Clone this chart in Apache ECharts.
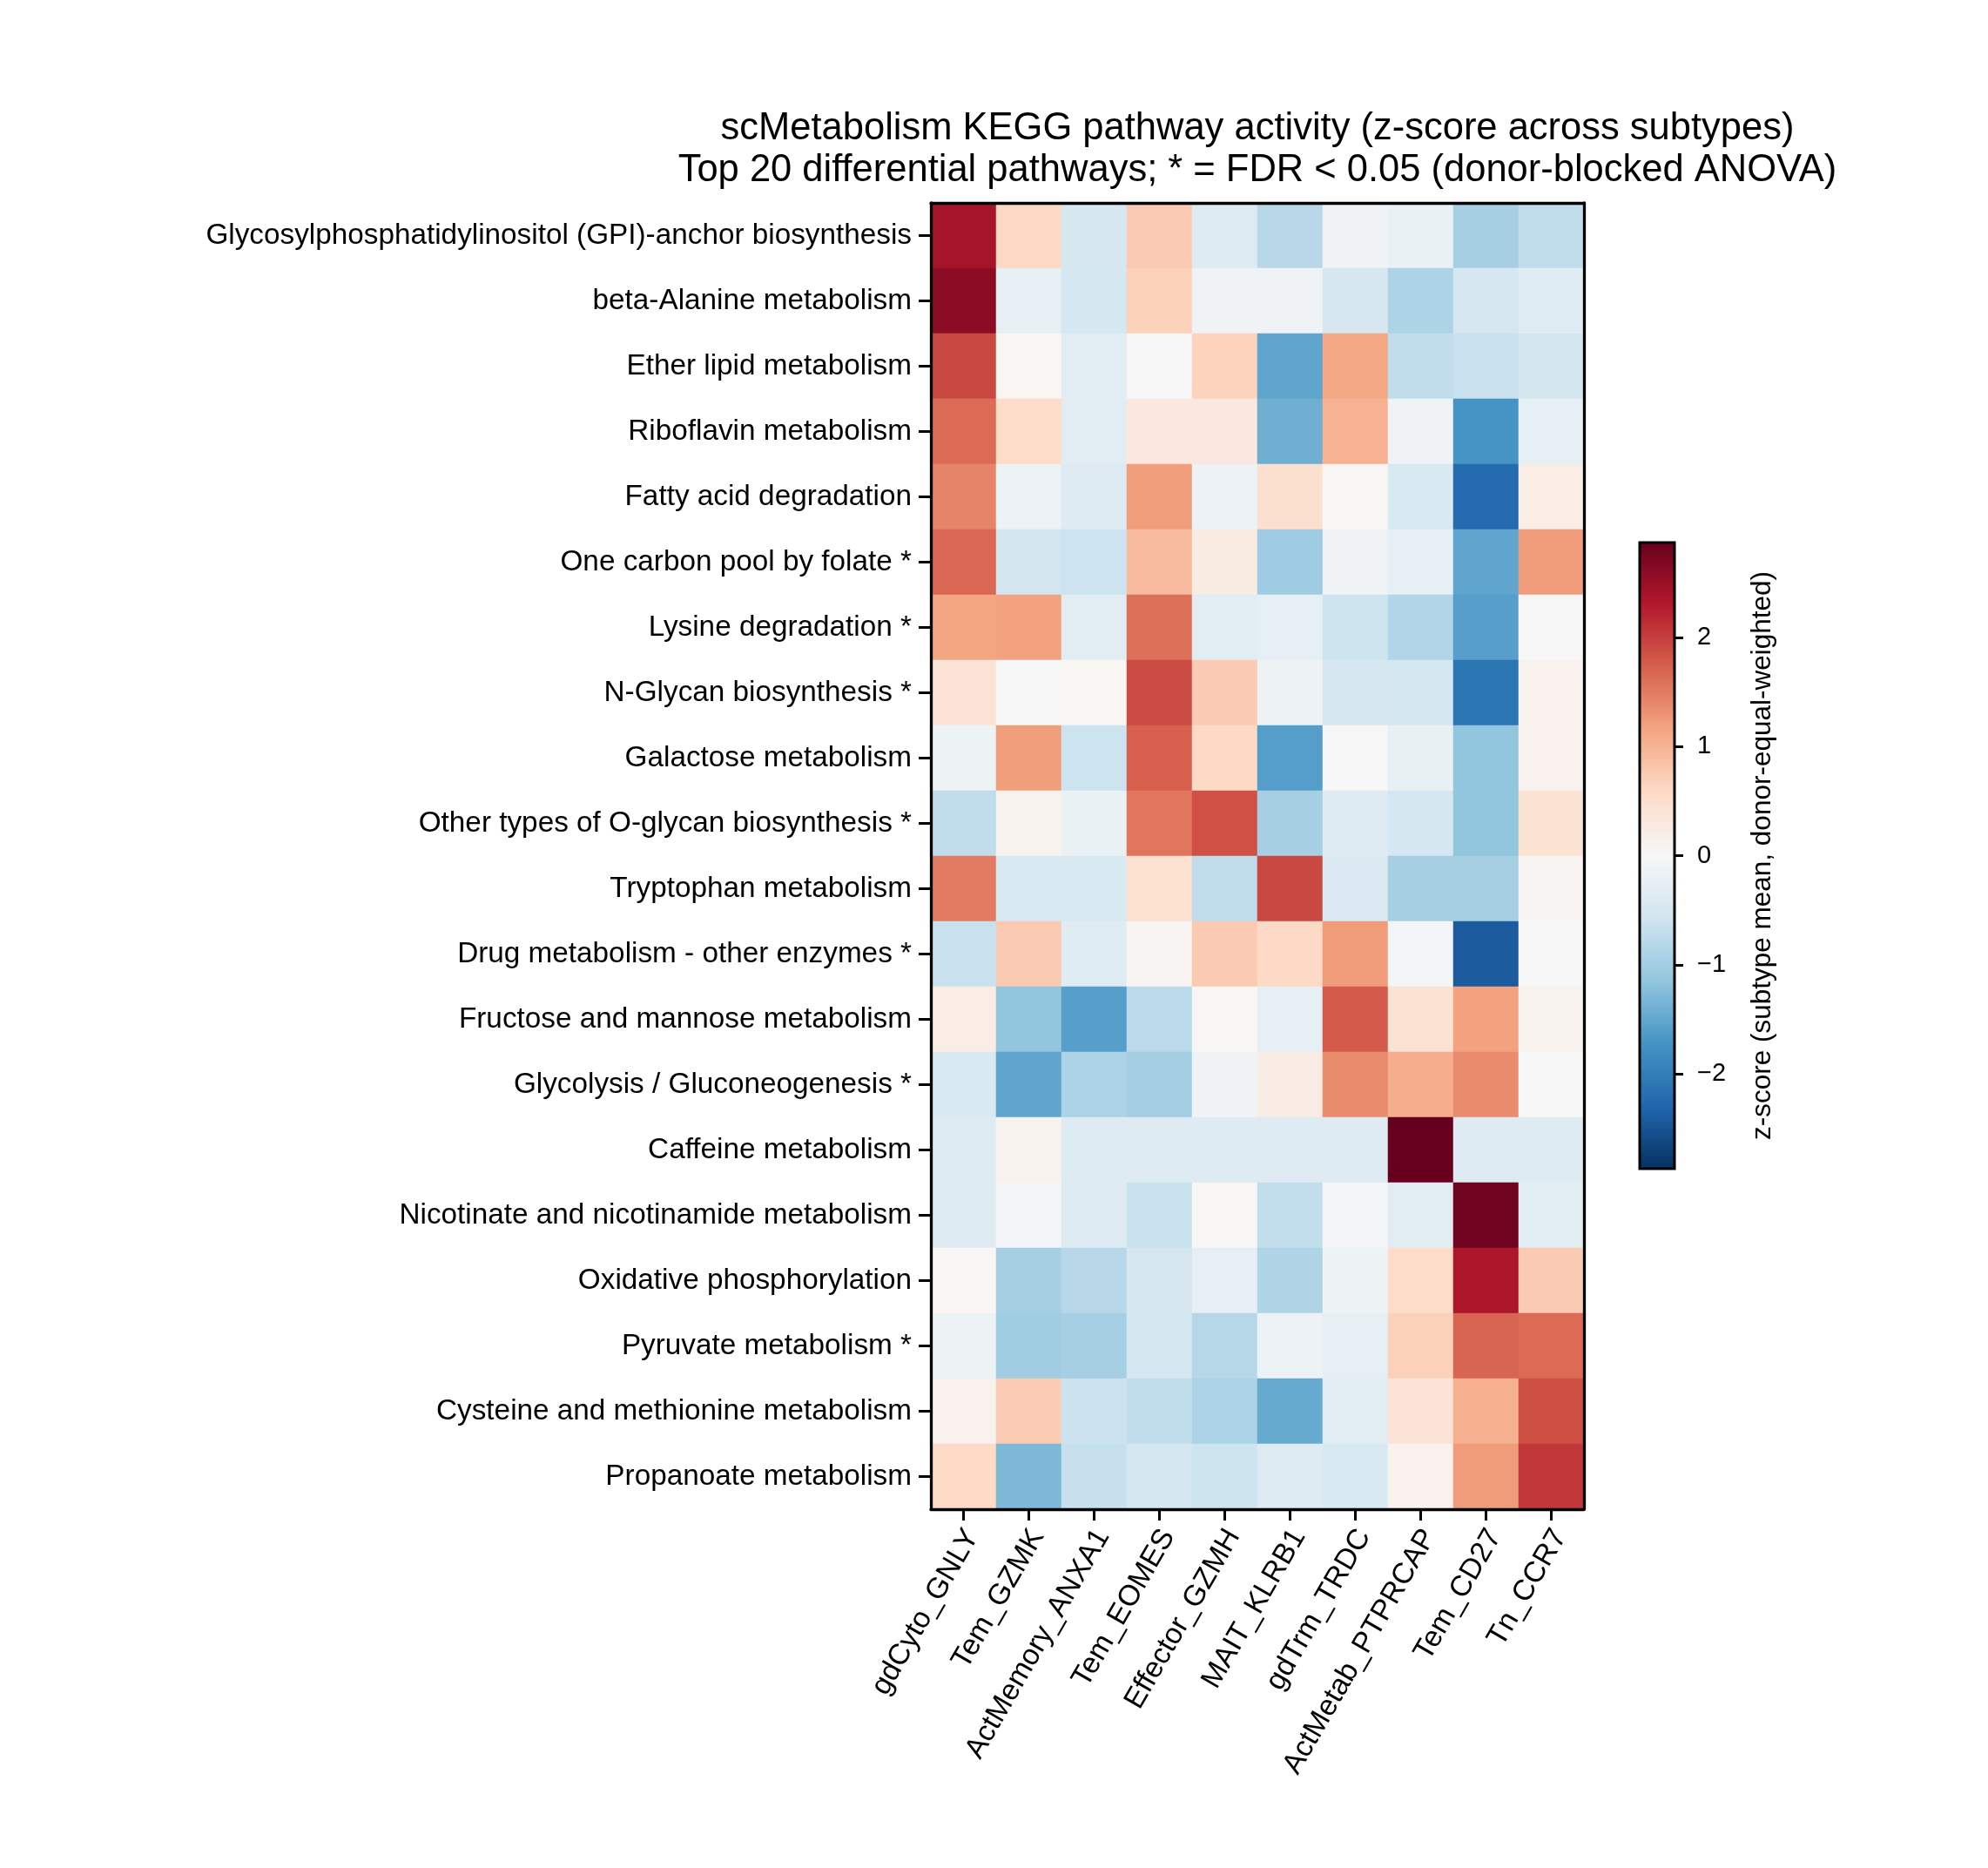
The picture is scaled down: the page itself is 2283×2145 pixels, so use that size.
<!DOCTYPE html>
<html>
<head>
<meta charset="utf-8">
<script src="https://cdn.jsdelivr.net/npm/echarts@6/dist/echarts.min.js"></script>
<style>
html,body{margin:0;padding:0;background:#fff;}
#chart{width:2283px;height:2145px;}
</style>
</head>
<body>
<div id="chart"></div>
<script>
// ---- data ----
const subtypes = ['gdCyto_GNLY','Tem_GZMK','ActMemory_ANXA1','Tem_EOMES','Effector_GZMH','MAIT_KLRB1','gdTrm_TRDC','ActMetab_PTPRCAP','Tem_CD27','Tn_CCR7'];
const pathways = [
  'Glycosylphosphatidylinositol (GPI)-anchor biosynthesis',
  'beta-Alanine metabolism',
  'Ether lipid metabolism',
  'Riboflavin metabolism',
  'Fatty acid degradation',
  'One carbon pool by folate *',
  'Lysine degradation *',
  'N-Glycan biosynthesis *',
  'Galactose metabolism',
  'Other types of O-glycan biosynthesis *',
  'Tryptophan metabolism',
  'Drug metabolism - other enzymes *',
  'Fructose and mannose metabolism',
  'Glycolysis / Gluconeogenesis *',
  'Caffeine metabolism',
  'Nicotinate and nicotinamide metabolism',
  'Oxidative phosphorylation',
  'Pyruvate metabolism *',
  'Cysteine and methionine metabolism',
  'Propanoate metabolism'
];
// z-scores per subtype (one value per pathway, same order as pathways)
const gdCyto_GNLY      = [2.39, 2.59, 1.91, 1.63, 1.42, 1.66, 1.15, 0.40, -0.15, -0.72, 1.50, -0.65, 0.20, -0.45, -0.38, -0.38, 0.05, -0.15, 0.12, 0.57];
const Tem_GZMK         = [0.60, -0.25, 0.05, 0.55, -0.17, -0.55, 1.17, 0.00, 1.21, 0.10, -0.45, 0.75, -1.15, -1.51, 0.10, -0.05, -0.96, -1.01, 0.73, -1.30];
const ActMemory_ANXA1  = [-0.50, -0.52, -0.31, -0.31, -0.38, -0.61, -0.31, 0.05, -0.61, -0.20, -0.45, -0.35, -1.58, -0.90, -0.38, -0.38, -0.80, -0.96, -0.62, -0.67];
const Tem_EOMES        = [0.75, 0.68, 0.00, 0.30, 1.21, 0.91, 1.59, 1.88, 1.72, 1.54, 0.45, 0.06, -0.78, -0.98, -0.38, -0.64, -0.50, -0.52, -0.72, -0.52];
const Effector_GZMH    = [-0.40, -0.12, 0.65, 0.30, -0.17, 0.25, -0.33, 0.75, 0.58, 1.84, -0.72, 0.75, 0.02, -0.12, -0.38, 0.03, -0.24, -0.82, -0.90, -0.60];
const MAIT_KLRB1       = [-0.80, -0.12, -1.52, -1.40, 0.48, -1.03, -0.25, -0.15, -1.60, -0.96, 1.91, 0.58, -0.25, 0.22, -0.38, -0.71, -0.88, -0.16, -1.46, -0.38];
const gdTrm_TRDC       = [-0.12, -0.50, 1.12, 1.01, 0.03, -0.12, -0.60, -0.50, -0.02, -0.38, -0.42, 1.22, 1.76, 1.36, -0.38, -0.05, -0.15, -0.25, -0.33, -0.45];
const ActMetab_PTPRCAP = [-0.20, -0.90, -0.72, -0.12, -0.45, -0.25, -0.86, -0.52, -0.22, -0.52, -0.96, -0.05, 0.42, 1.06, 2.87, -0.32, 0.55, 0.68, 0.38, 0.12];
const Tem_CD27         = [-0.97, -0.50, -0.65, -1.71, -2.23, -1.51, -1.58, -2.11, -1.15, -1.15, -0.96, -2.40, 1.17, 1.36, -0.38, 2.80, 2.35, 1.68, 1.02, 1.22];
const Tn_CCR7          = [-0.72, -0.35, -0.54, -0.25, 0.20, 1.22, 0.00, 0.12, 0.12, 0.42, 0.06, 0.00, 0.10, 0.00, -0.38, -0.32, 0.75, 1.63, 1.85, 2.05];
const colorbarTicks = [-2, -1, 0, 1, 2];
const zMin = -2.87, zMax = 2.87;
const titleLines = [
  'scMetabolism KEGG pathway activity (z-score across subtypes)',
  'Top 20 differential pathways; * = FDR < 0.05 (donor-blocked ANOVA)'
];
const colorbarLabel = 'z-score (subtype mean, donor-equal-weighted)';

// ---- build ----
const columns = [gdCyto_GNLY, Tem_GZMK, ActMemory_ANXA1, Tem_EOMES, Effector_GZMH, MAIT_KLRB1, gdTrm_TRDC, ActMetab_PTPRCAP, Tem_CD27, Tn_CCR7];
const heatData = [];
columns.forEach((col, xi) => col.forEach((v, yi) => heatData.push([xi, yi, v])));

const RdBu_r = ['#053061','#2166ac','#4393c3','#92c5de','#d1e5f0','#f7f7f7','#fddbc7','#f4a582','#d6604d','#b2182b','#67001f'];
const FONT = "'Liberation Sans', Arial, Helvetica, sans-serif";
const fmt = v => (v < 0 ? '\u2212' + Math.abs(v) : String(v));

const chart = echarts.init(document.getElementById('chart'), null, {renderer: 'canvas'});
const HM = {left: 1069, top: 233, width: 750, height: 1500};
const CB = {left: 1883, top: 623, width: 40, height: 719};
const axisLineStyle = {color: '#000', width: 3.3};

chart.setOption({
  backgroundColor: '#fff',
  animation: false,
  textStyle: {fontFamily: FONT},
  graphic: [
    {type: 'text', x: HM.left + HM.width / 2, y: 148, style: {text: titleLines[0], font: `43.5px ${FONT}`, fill: '#000', textAlign: 'center', textVerticalAlign: 'middle'}},
    {type: 'text', x: HM.left + HM.width / 2, y: 196, style: {text: titleLines[1], font: `43.5px ${FONT}`, fill: '#000', textAlign: 'center', textVerticalAlign: 'middle'}}
  ],
  grid: [
    {left: HM.left, top: HM.top, width: HM.width, height: HM.height, containLabel: false},
    {left: CB.left, top: CB.top, width: CB.width, height: CB.height, containLabel: false, show: true,
     borderColor: '#000', borderWidth: 3,
     backgroundColor: {type: 'linear', x: 0, y: 1, x2: 0, y2: 0,
       colorStops: RdBu_r.map((c, i) => ({offset: i / (RdBu_r.length - 1), color: c}))}}
  ],
  xAxis: [
    {type: 'category', gridIndex: 0, data: subtypes, position: 'bottom', z: 5,
     axisLine: {show: true, lineStyle: axisLineStyle},
     axisTick: {show: true, alignWithLabel: true, length: 13, lineStyle: {color: '#000', width: 3}},
     axisLabel: {show: true, interval: 0, rotate: 60, margin: 20, fontSize: 33.5, color: '#000', fontFamily: FONT,
                 verticalAlign: 'top', lineHeight: 23},
     splitLine: {show: false}},
    {type: 'category', gridIndex: 0, data: subtypes, position: 'top', z: 5,
     axisLine: {show: true, lineStyle: axisLineStyle}, axisTick: {show: false}, axisLabel: {show: false}},
    {type: 'category', gridIndex: 1, data: ['cb'], show: false}
  ],
  yAxis: [
    {type: 'category', gridIndex: 0, data: pathways, inverse: true, position: 'left', z: 5,
     axisLine: {show: true, lineStyle: axisLineStyle},
     axisTick: {show: true, alignWithLabel: true, length: 14, lineStyle: {color: '#000', width: 3}},
     axisLabel: {show: true, interval: 0, margin: 22, fontSize: 33.3, color: '#000', fontFamily: FONT, padding: [8, 0, 0, 0]},
     splitLine: {show: false}},
    {type: 'category', gridIndex: 0, data: pathways, inverse: true, position: 'right', z: 5,
     axisLine: {show: true, lineStyle: axisLineStyle}, axisTick: {show: false}, axisLabel: {show: false}},
    {type: 'value', gridIndex: 1, min: zMin, max: zMax, position: 'right',
     axisLine: {show: false},
     axisTick: {show: true, length: 10, customValues: colorbarTicks, lineStyle: {color: '#000', width: 3}},
     axisLabel: {show: true, margin: 26, customValues: colorbarTicks, formatter: fmt, fontSize: 29, color: '#000', fontFamily: FONT, align: 'left'},
     splitLine: {show: false},
     name: colorbarLabel, nameLocation: 'middle', nameRotate: 90, nameGap: 85,
     nameTextStyle: {fontSize: 31.5, color: '#000', fontFamily: FONT}}
  ],
  visualMap: {
    type: 'continuous', show: false, min: zMin, max: zMax, seriesIndex: 0, dimension: 2,
    inRange: {color: RdBu_r}
  },
  series: [{
    type: 'heatmap', xAxisIndex: 0, yAxisIndex: 0, data: heatData,
    itemStyle: {borderWidth: 0},
    emphasis: {disabled: true}
  }]
});
</script>
</body>
</html>
